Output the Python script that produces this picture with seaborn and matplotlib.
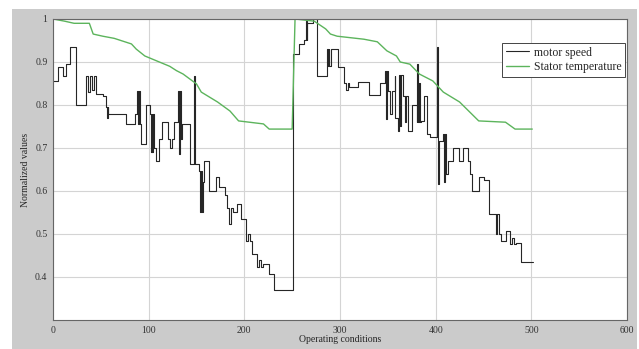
import matplotlib
matplotlib.use("Agg")
import matplotlib.pyplot as plt
from matplotlib.patches import Rectangle
import seaborn as sns

# motor speed, step levels (operating condition where a level starts, value)
speed_x = [0, 5, 10, 14, 18, 24, 35, 37, 39, 41, 43, 45, 52, 55, 56, 57, 58, 76, 86, 88,
           89, 90, 91, 92, 97, 101, 102, 103, 104, 105, 106, 108, 111, 114, 120, 122, 124,
           126, 131, 132, 133, 134, 135, 143, 147, 148, 153, 154, 155, 156, 157, 158, 163,
           170, 173, 180, 182, 184, 186, 188, 192, 197, 202, 204, 206, 208, 213, 215, 217,
           220, 226, 231, 251, 257, 262, 264, 265, 266, 272, 276, 286, 287, 288, 289, 291,
           298, 304, 306, 308, 309, 319, 330, 342, 347, 348, 349, 350, 352, 354, 357, 358,
           361, 362, 363, 364, 366, 368, 369, 371, 375, 380, 381, 382, 383, 384, 385, 388,
           391, 394, 401, 402, 403, 408, 409, 410, 411, 413, 418, 424, 429, 434, 436, 438,
           445, 450, 456, 463, 464, 466, 468, 473, 478, 480, 482, 484, 489, 502]
speed_y = [0.855, 0.888, 0.868, 0.895, 0.935, 0.80, 0.867, 0.83, 0.867, 0.835, 0.867, 0.826,
           0.82, 0.795, 0.77, 0.795, 0.78, 0.756, 0.78, 0.833, 0.756, 0.833, 0.756, 0.71,
           0.80, 0.78, 0.69, 0.78, 0.69, 0.78, 0.70, 0.67, 0.72, 0.76, 0.72, 0.70, 0.72,
           0.76, 0.833, 0.686, 0.833, 0.72, 0.756, 0.663, 0.867, 0.663, 0.646, 0.55, 0.646,
           0.55, 0.62, 0.67, 0.60, 0.632, 0.61, 0.59, 0.56, 0.523, 0.56, 0.55, 0.57, 0.535,
           0.483, 0.50, 0.483, 0.453, 0.423, 0.44, 0.423, 0.43, 0.407, 0.37, 0.919, 0.942,
           0.95, 0.995, 0.95, 0.99, 1.0, 0.867, 0.93, 0.89, 0.93, 0.89, 0.93, 0.888, 0.85,
           0.835, 0.85, 0.842, 0.853, 0.824, 0.85, 0.88, 0.767, 0.88, 0.833, 0.78, 0.833,
           0.867, 0.77, 0.74, 0.87, 0.75, 0.87, 0.82, 0.76, 0.82, 0.74, 0.80, 0.76, 0.895,
           0.76, 0.85, 0.76, 0.763, 0.82, 0.733, 0.725, 0.935, 0.617, 0.716, 0.733, 0.62,
           0.733, 0.64, 0.67, 0.70, 0.67, 0.70, 0.67, 0.64, 0.60, 0.632, 0.625, 0.547, 0.50,
           0.547, 0.50, 0.483, 0.507, 0.476, 0.49, 0.476, 0.48, 0.435, 0.435]

# stator temperature
temp_x = [0, 12, 22, 38, 42, 52, 64, 82, 87, 96, 122, 129, 136, 150, 155, 172, 185, 194,
          220, 226, 250, 253, 273, 285, 290, 297, 325, 339, 349, 359, 363, 373, 383, 397,
          408, 425, 445, 473, 483, 501]
temp_y = [1.0, 0.995, 0.99, 0.99, 0.965, 0.96, 0.955, 0.942, 0.93, 0.914, 0.89, 0.88,
          0.872, 0.849, 0.83, 0.807, 0.786, 0.763, 0.756, 0.744, 0.744, 1.0, 0.995, 0.977,
          0.965, 0.96, 0.953, 0.947, 0.926, 0.914, 0.90, 0.895, 0.872, 0.856, 0.83, 0.807,
          0.763, 0.76, 0.744, 0.744]

x_ticks = [0, 100, 200, 300, 400, 500, 600]
y_ticks = [0.4, 0.5, 0.6, 0.7, 0.8, 0.9, 1.0]
y_tick_labels = ["0.4", "0.5", "0.6", "0.7", "0.8", "0.9", "1"]

sns.set_style("whitegrid")
plt.rcParams["font.family"] = ["Liberation Serif", "DejaVu Serif"]

fig = plt.figure(figsize=(6.39, 3.49), dpi=100, facecolor="white")
# gray window background like the original export
fig.patches.append(Rectangle((12 / 639, 0), 625 / 639, 340 / 349, transform=fig.transFigure,
                             facecolor="#cbcbcb", edgecolor="none", zorder=-10))
ax = fig.add_axes([53 / 639, 29 / 349, 574 / 639, 301 / 349])
ax.set_facecolor("white")

sns.lineplot(x=speed_x, y=speed_y, ax=ax, drawstyle="steps-post", color="#262626",
             linewidth=0.8, estimator=None, label="motor speed")
sns.lineplot(x=temp_x, y=temp_y, ax=ax, color="#5cb45c", linewidth=1.0,
             estimator=None, label="Stator temperature")

ax.set_xlim(0, 600)
ax.set_ylim(0.3, 1.0)
ax.set_xticks(x_ticks)
ax.set_yticks(y_ticks)
ax.set_yticklabels(y_tick_labels)
ax.tick_params(labelsize=7, length=2, pad=2, colors="#333333")
ax.grid(True, color="#d4d4d4", linewidth=0.8)
for s in ax.spines.values():
    s.set_color("#666666")
    s.set_linewidth(0.8)
ax.set_xlabel("Operating conditions", fontsize=7, labelpad=0)
ax.set_ylabel("Normalized values", fontsize=7, labelpad=4)

leg = ax.legend(loc="upper right", bbox_to_anchor=(0.997, 0.92), fontsize=8.5,
                frameon=True, fancybox=False, framealpha=1, borderpad=0.3,
                handlelength=2.0, handletextpad=0.4, labelspacing=0.2, borderaxespad=0.0)
leg.get_frame().set_edgecolor("#444444")
leg.get_frame().set_linewidth(0.7)

fig.savefig("out.png", dpi=100)
